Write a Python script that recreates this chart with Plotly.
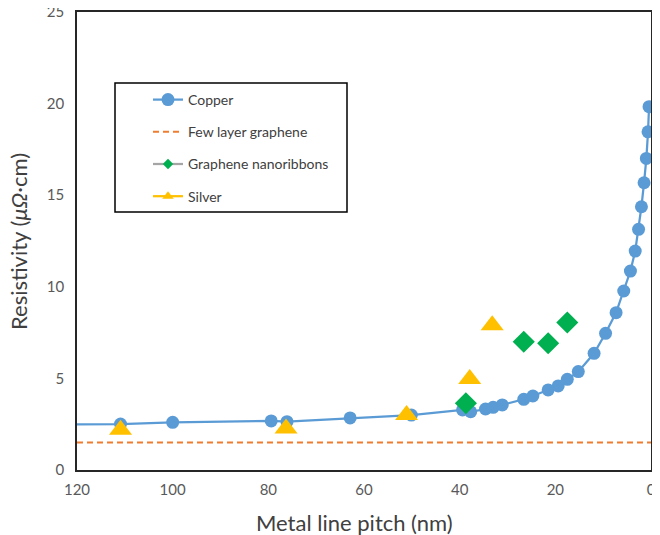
import plotly.graph_objects as go

# Copper
cu_pitch = [130, 110.9, 100, 79.4, 76.1, 62.9, 50.1, 39.4, 37.7, 34.6, 33.0, 31.1, 26.6, 24.7,
            21.5, 19.4, 17.5, 15.2, 11.9, 9.5, 7.3, 5.7, 4.3, 3.3, 2.6, 2.0, 1.45, 0.97, 0.62, 0.41]
cu_rho = [2.48, 2.51, 2.6, 2.68, 2.64, 2.84, 3.0, 3.28, 3.18, 3.33, 3.42, 3.55, 3.86, 4.04,
          4.37, 4.59, 4.95, 5.37, 6.37, 7.46, 8.59, 9.77, 10.86, 11.95, 13.14, 14.37, 15.68,
          17.01, 18.46, 19.83]

# Few layer graphene
flg_pitch = [120, 0]
flg_rho = [1.5, 1.5]

# Graphene nanoribbons
gnr_pitch = [38.7, 26.6, 21.5, 17.5]
gnr_rho = [3.64, 7.0, 6.92, 8.05]

# Silver
ag_pitch = [110.9, 76.3, 51.1, 37.9, 33.2]
ag_rho = [2.2, 2.27, 3.0, 4.97, 7.9]

x_ticks = [120, 100, 80, 60, 40, 20, 0]
y_ticks = [0, 5, 10, 15, 20, 25]

BLUE = "#5B9BD5"
ORANGE = "#ED7D31"
GREEN = "#00B050"
GRAY = "#A5A5A5"
GOLD = "#FFC000"

fig = go.Figure()

fig.add_trace(go.Scatter(
    x=flg_pitch, y=flg_rho, mode="lines", name="Few layer graphene",
    line=dict(color=ORANGE, width=2, dash="6px,4px"), showlegend=False, legendgroup="b"))
fig.add_trace(go.Scatter(
    x=cu_pitch, y=cu_rho, mode="lines+markers", name="Copper",
    line=dict(color=BLUE, width=2.25),
    marker=dict(symbol="circle", size=13, color=BLUE), legendgroup="a", legendrank=1))
fig.add_trace(go.Scatter(
    x=flg_pitch, y=[None, None], mode="lines", name="Few layer graphene",
    line=dict(color=ORANGE, width=2, dash="6px,4px"), legendgroup="b", legendrank=2))
fig.add_trace(go.Scatter(
    x=gnr_pitch, y=gnr_rho, mode="markers", name="Graphene nanoribbons",
    marker=dict(symbol="diamond", size=17, color=GREEN), showlegend=False, legendgroup="c"))
fig.add_trace(go.Scatter(
    x=[None], y=[None], mode="lines+markers", name="Graphene nanoribbons",
    line=dict(color=GRAY, width=2.25),
    marker=dict(symbol="diamond", size=8, color=GREEN), legendgroup="c", legendrank=3))
fig.add_trace(go.Scatter(
    x=ag_pitch, y=ag_rho, mode="markers", name="Silver",
    marker=dict(symbol="triangle-up", size=20, color=GOLD), showlegend=False, legendgroup="d"))
fig.add_trace(go.Scatter(
    x=[None], y=[None], mode="lines+markers", name="Silver",
    line=dict(color=GOLD, width=2.25),
    marker=dict(symbol="triangle-up", size=10, color=GOLD), legendgroup="d", legendrank=4))

FONT = "Lato, 'Open Sans', sans-serif"

# page is offset by the 8px body margin; visible area ends near x=652
PX0, PX1, PY0, PY1 = 77, 651, 12, 470
PW, PH = PX1 - PX0, PY1 - PY0


def px_x(p):
    return (p - PX0) / PW


def px_y(p):
    return 1 - (p - PY0) / PH


fig.update_layout(
    width=644, height=527,
    margin=dict(l=69, r=1, t=4, b=65, autoexpand=False),
    paper_bgcolor="white", plot_bgcolor="white",
    font=dict(family=FONT, color="#595959", size=15),
    showlegend=True,
    legend=dict(
        x=px_x(148), y=px_y(84), xanchor="left", yanchor="top",
        bgcolor="rgba(0,0,0,0)", borderwidth=0,
        font=dict(size=14, color="#404040", family=FONT),
        tracegroupgap=11, traceorder="grouped",
    ),
    xaxis=dict(
        range=[120, 0], tickvals=x_ticks, ticks="", showgrid=False, zeroline=False,
        showline=True, linecolor="#262626", linewidth=1.5, mirror=True, automargin=False,
        tickfont=dict(size=15, color="#595959"), ticklabeloverflow="allow",
        ticklabelstandoff=5,
    ),
    yaxis=dict(
        range=[0, 25], tickvals=y_ticks, ticks="", showgrid=False, zeroline=False,
        showline=True, linecolor="#262626", linewidth=1.5, mirror=True, automargin=False,
        tickfont=dict(size=15, color="#595959"), ticklabeloverflow="allow",
        ticklabelstandoff=8,
    ),
    shapes=[dict(
        type="rect", xref="paper", yref="paper",
        x0=px_x(115), x1=px_x(347), y0=px_y(212), y1=px_y(83),
        line=dict(color="#000000", width=1.5), fillcolor="white", layer="above",
    )],
    annotations=[
        dict(text="Metal line pitch (nm)", xref="paper", yref="paper",
             x=px_x(354), y=px_y(522), xanchor="center", yanchor="middle",
             showarrow=False, font=dict(size=22, color="#404040", family=FONT)),
        dict(text="Resistivity (<i>μΩ</i>·cm)", xref="paper", yref="paper",
             x=px_x(19), y=px_y(242), xanchor="center", yanchor="middle", textangle=-90,
             showarrow=False, font=dict(size=22, color="#404040", family=FONT)),
    ],
)

fig.write_html("out.html")
